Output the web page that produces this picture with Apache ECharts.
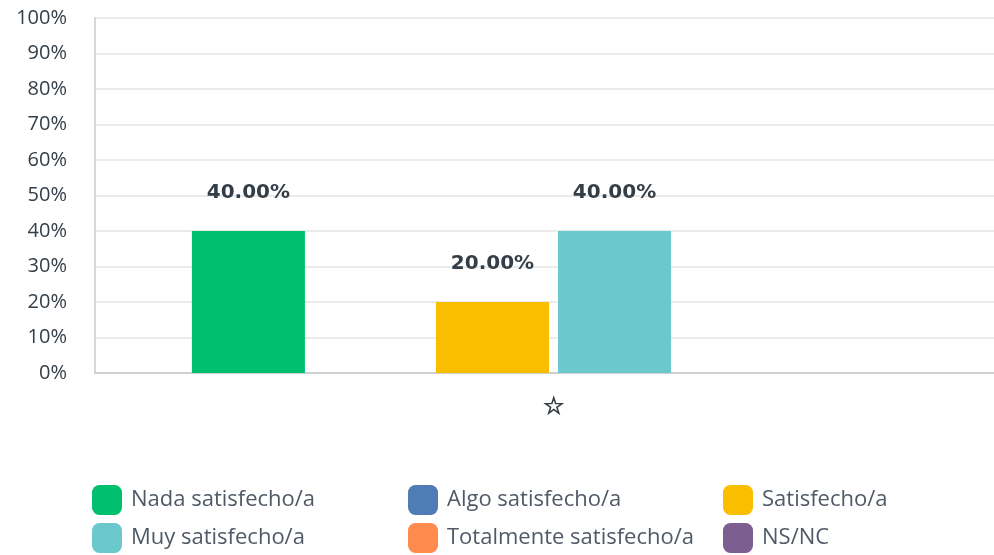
<!DOCTYPE html>
<html>
<head>
<meta charset="utf-8">
<script src="https://cdn.jsdelivr.net/npm/echarts@6/dist/echarts.min.js"></script>
<style>
  html, body { margin: 0; padding: 0; background: #fff; }
  #chart { width: 994px; height: 555px; }
</style>
</head>
<body>
<div id="chart"></div>
<script>
const categories = ['☆'];
const seriesNames = ['Nada satisfecho/a', 'Algo satisfecho/a', 'Satisfecho/a', 'Muy satisfecho/a', 'Totalmente satisfecho/a', 'NS/NC'];
const seriesValues = [[40], [0], [20], [40], [0], [0]];
const seriesColors = ['#00bf6f', '#507cb6', '#f9be00', '#6bc8cd', '#ff8b4f', '#7d5e90'];
const yTicks = [0, 10, 20, 30, 40, 50, 60, 70, 80, 90, 100];

// legend is laid out in three columns of two
const legendColumns = [
  [seriesNames[0], seriesNames[3]],
  [seriesNames[1], seriesNames[4]],
  [seriesNames[2], seriesNames[5]]
];
const legendLeft = [92, 408, 723];

const txt = '#333e48';

let myChart = echarts.init(document.getElementById('chart'));

let option = {
  animation: false,
  grid: { left: 95, top: 18, bottom: 182, width: 917, outerBoundsMode: 'none' },
  xAxis: {
    type: 'category',
    data: categories,
    axisLine: { lineStyle: { color: '#d0d0d0', width: 2 } },
    axisTick: { show: false },
    axisLabel: { color: txt, fontSize: 24, fontWeight: 'bold', margin: 22 }
  },
  yAxis: {
    type: 'value',
    min: yTicks[0],
    max: yTicks[yTicks.length - 1],
    interval: 10,
    axisLine: { show: true, lineStyle: { color: '#d8d8d8', width: 2 } },
    axisTick: { show: false },
    splitLine: { lineStyle: { color: '#ebebeb', width: 2 } },
    axisLabel: { color: txt, fontSize: 20, margin: 28, fontFamily: 'Open Sans', formatter: '{value}%' }
  },
  legend: legendColumns.map((col, i) => ({
    data: col,
    orient: 'vertical',
    left: legendLeft[i],
    top: 485,
    padding: 0,
    itemWidth: 30,
    itemHeight: 30,
    itemGap: 8,
    icon: 'roundRect',
    selectedMode: false,
    textStyle: { color: '#505a67', fontSize: 22, fontFamily: 'Open Sans', padding: [0, 0, 0, 4] }
  })),
  series: seriesNames.map((name, i) => ({
    name: name,
    type: 'bar',
    data: seriesValues[i],
    barWidth: 113,
    barGap: '8%',
    itemStyle: { color: seriesColors[i] },
    label: {
      show: true,
      position: 'top',
      distance: 28,
      color: txt,
      fontSize: 20,
      fontWeight: 'bold',
      fontFamily: 'DejaVu Sans',
      formatter: p => p.value > 0 ? p.value.toFixed(2) + '%' : ''
    }
  }))
};

myChart.setOption(option);
</script>
</body>
</html>
